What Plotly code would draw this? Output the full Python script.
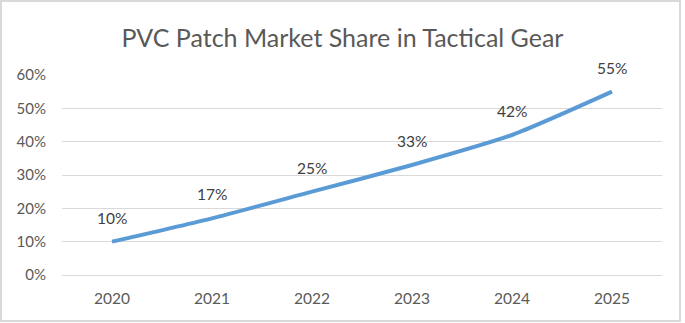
import plotly.graph_objects as go

years = ["2020", "2021", "2022", "2023", "2024", "2025"]
share = [0.10, 0.17, 0.25, 0.33, 0.42, 0.55]
labels = ["10%", "17%", "25%", "33%", "42%", "55%"]

W, H = 685, 323
ml, mr, mt, mb = 62, 23, 75, 48
FONT = "Lato, Open Sans, sans-serif"

fig = go.Figure()
fig.add_trace(go.Scatter(
    x=list(range(len(years))), y=share, mode="lines",
    line=dict(color="#5b9bd5", width=4, shape="spline", smoothing=0.6),
    hoverinfo="skip", showlegend=False,
))
for i, (y, t) in enumerate(zip(share, labels)):
    fig.add_annotation(x=i, y=y, xref="x", yref="y", text=t, showarrow=False, yshift=24,
                       font=dict(family=FONT, size=15.5, color="#404040"))

pw = W - ml - mr
ph = H - mt - mb
fig.add_shape(type="rect", xref="paper", yref="paper",
              x0=(1 - ml) / pw, x1=(W - 5 - ml) / pw,
              y0=-(mb - 2) / ph, y1=1 + (mt - 1) / ph,
              line=dict(color="#d9d9d9", width=2), layer="below")

fig.update_layout(
    width=W, height=H,
    margin=dict(l=ml, r=mr, t=mt, b=mb),
    paper_bgcolor="white", plot_bgcolor="white",
    title=dict(text="PVC Patch Market Share in Tactical Gear", x=0.5, xanchor="center",
               y=1 - 38 / H, yanchor="middle",
               font=dict(family=FONT, size=25, color="#595959")),
    xaxis=dict(tickmode="array", tickvals=list(range(len(years))), ticktext=years,
               showgrid=False, showline=False, ticks="", zeroline=False,
               ticklabelstandoff=12,
               tickfont=dict(family=FONT, size=15.5, color="#595959"),
               range=[-0.5, len(years) - 0.5]),
    yaxis=dict(range=[0, 0.6], dtick=0.1, tickformat=".0%", showgrid=True,
               gridcolor="#d9d9d9", gridwidth=1, zeroline=True, zerolinecolor="#d9d9d9",
               zerolinewidth=1, showline=False, ticks="", ticklabelstandoff=15,
               tickfont=dict(family=FONT, size=15, color="#595959")),
)
fig.write_html("out.html")
